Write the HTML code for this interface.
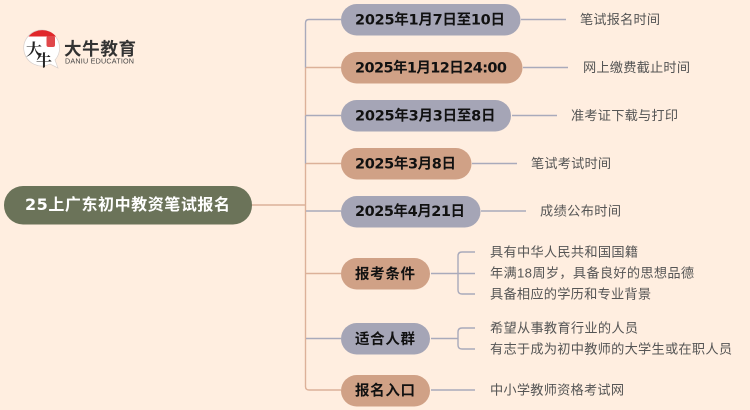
<!DOCTYPE html>
<html lang="zh">
<head>
<meta charset="utf-8">
<style>
html,body{margin:0;padding:0;background:#ffeee0;width:750px;height:410px;overflow:hidden}
svg{display:block;filter:blur(0.3px)}
text{font-family:"Liberation Sans","Noto Sans CJK SC",sans-serif}
.p{font-family:"DejaVu Sans","Noto Sans CJK SC",sans-serif;font-weight:700;font-size:14.5px;fill:#111}
.l{font-size:13.2px;fill:#555}
.b{stroke:#a9aabb;stroke-width:1.4;fill:none}
.o{stroke:#dcb199;stroke-width:1.4;fill:none}
</style>
</head>
<body>
<svg width="750" height="410" viewBox="0 0 750 410" xmlns="http://www.w3.org/2000/svg">
<rect x="-2" y="-2" width="754" height="414" fill="#ffeee0"/>
<!-- trunk -->
<path class="o" d="M252 205H305.500M305.500 67.500H341M305.500 163.500H341M305.500 273.500H341"/>
<path class="o" d="M305.500 67.500V115.500M305.500 163.500V386.500Q305.500 390 309 390H341" stroke-width="1.700"/>
<path class="b" d="M341 19.500H309Q305.500 19.500 305.500 23V67.500M305.500 115.500V163.500" stroke-width="1.700"/>
<path class="b" d="M306 115.500H341M306 211H341M306 338.500H341"/>
<!-- leaf connectors -->
<path class="b" d="M521 19.500H566M523 67.500H568M512 115.500H557M472 163.500H517M481 211H526"/>
<path class="b" d="M431 273.500H475M458 273.500V256Q458 252 462 252H475M458 273.500V290Q458 294 462 294H475"/>
<path class="b" d="M431 338.500H458M475 328H462Q458 328 458 332V345Q458 349 462 349H475"/>
<path class="b" d="M431 390H475"/>
<!-- root -->
<rect x="4" y="186" width="248" height="38.500" rx="19" fill="#6b7359"/>
<text x="25" y="210" textLength="205" lengthAdjust="spacing" style="font-family:'DejaVu Sans','Noto Sans CJK SC',sans-serif;font-weight:700;font-size:16px" fill="#fff">25上广东初中教资笔试报名</text>
<!-- pills -->
<rect x="341" y="4" width="179.500" height="31.500" rx="15.700" fill="#a5a5b6"/>
<rect x="341" y="52" width="181.500" height="31.500" rx="15.700" fill="#d0a186"/>
<rect x="341" y="100" width="170" height="31.500" rx="15.700" fill="#a5a5b6"/>
<rect x="341" y="148" width="130.500" height="31.500" rx="15.700" fill="#d0a186"/>
<rect x="341" y="196" width="139.500" height="31.500" rx="15.700" fill="#a5a5b6"/>
<rect x="341" y="258" width="89" height="31.500" rx="15.700" fill="#d0a186"/>
<rect x="341" y="323" width="89" height="31.500" rx="15.700" fill="#a5a5b6"/>
<rect x="341" y="375" width="89" height="31.500" rx="15.700" fill="#d0a186"/>
<text class="p" x="355" y="24.500" textLength="150" lengthAdjust="spacing">2025年1月7日至10日</text>
<text class="p" x="355" y="72.500" textLength="152" lengthAdjust="spacing">2025年1月12日24:00</text>
<text class="p" x="355" y="120.500" textLength="140.500" lengthAdjust="spacing">2025年3月3日至8日</text>
<text class="p" x="355" y="168.500" textLength="101" lengthAdjust="spacing">2025年3月8日</text>
<text class="p" x="355" y="216.200" textLength="110" lengthAdjust="spacing">2025年4月21日</text>
<text class="p" x="355" y="278.800" textLength="60" lengthAdjust="spacing">报考条件</text>
<text class="p" x="355" y="343.800" textLength="60" lengthAdjust="spacing">适合人群</text>
<text class="p" x="355" y="395.500" textLength="60" lengthAdjust="spacing">报名入口</text>
<!-- leaf labels -->
<text class="l" x="580" y="24" textLength="80" lengthAdjust="spacing">笔试报名时间</text>
<text class="l" x="583" y="72" textLength="107" lengthAdjust="spacing">网上缴费截止时间</text>
<text class="l" x="571" y="120" textLength="107" lengthAdjust="spacing">准考证下载与打印</text>
<text class="l" x="531" y="168" textLength="80" lengthAdjust="spacing">笔试考试时间</text>
<text class="l" x="540" y="215.700" textLength="81" lengthAdjust="spacing">成绩公布时间</text>
<text class="l" x="490" y="256.700" textLength="148" lengthAdjust="spacing">具有中华人民共和国国籍</text>
<text class="l" x="490" y="277.700" textLength="204" lengthAdjust="spacing">年满18周岁，具备良好的思想品德</text>
<text class="l" x="490" y="298.700" textLength="161" lengthAdjust="spacing">具备相应的学历和专业背景</text>
<text class="l" x="490" y="332.700" textLength="148" lengthAdjust="spacing">希望从事教育行业的人员</text>
<text class="l" x="490" y="353.700" textLength="242" lengthAdjust="spacing">有志于成为初中教师的大学生或在职人员</text>
<text class="l" x="490" y="394.700" textLength="134" lengthAdjust="spacing">中小学教师资格考试网</text>
<!-- logo -->
<path d="M42 30A18 18 0 1 0 50 64L58 68L55 60A18 18 0 0 0 42 30Z" fill="#fff" stroke="#d8d0cc" stroke-width="0.700"/>
<path d="M28.500 36.500A18 18 0 0 1 56 36.500Z" fill="#e0272a"/>
<rect x="46.500" y="36" width="8.500" height="11" rx="2" fill="#e0474a"/>
<text x="26" y="55" font-size="16" font-weight="700" fill="#222" style="font-family:'Noto Serif CJK SC',serif">大</text>
<text x="36" y="66" font-size="16" font-weight="700" fill="#222" style="font-family:'Noto Serif CJK SC',serif">牛</text>
<text x="64" y="55" textLength="72" lengthAdjust="spacing" font-size="17.500" font-weight="700" fill="#333">大牛教育</text>
<text x="65" y="63.500" textLength="69" lengthAdjust="spacing" font-size="7.200" fill="#444">DANIU EDUCATION</text>
</svg>
</body>
</html>
